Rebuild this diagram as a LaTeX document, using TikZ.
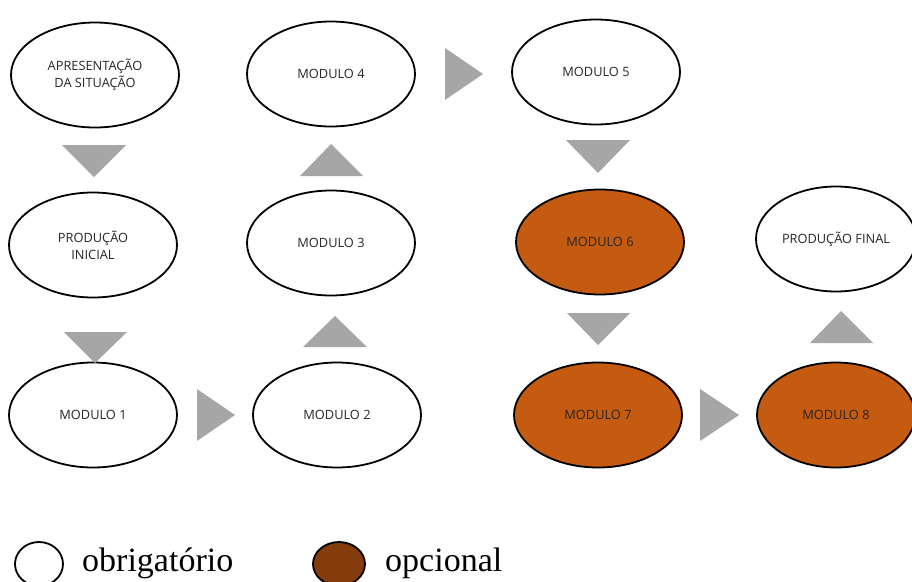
\documentclass[tikz,border=0pt]{standalone}
\usepackage{fontspec}
\setmainfont{Liberation Serif}
\newfontfamily\boxfont{Open Sans}
\usetikzlibrary{shapes.geometric}
\definecolor{optfill}{HTML}{C55A11}
\definecolor{legfill}{HTML}{843C0C}
\definecolor{arrgray}{HTML}{A6A6A6}
\begin{document}
\begin{tikzpicture}[x=1pt,y=-1pt,
  stage/.style={ellipse,draw=black,line width=1.8pt,inner sep=0pt,
    minimum width=168pt,minimum height=105pt,align=center,
    font=\boxfont\fontsize{12.8}{15}\selectfont,text=black!85},
  opt/.style={stage,fill=optfill},
  tri/.style={fill=arrgray,draw=none}]
\useasboundingbox (0,0) rectangle (912,581);
\node[stage] (apres) at (95,75) {APRESENTAÇÃO\\[2pt]DA SITUAÇÃO};
\node[stage] (m4) at (331,74) {MODULO 4};
\node[stage] (m5) at (596,72) {MODULO 5};
\node[stage] (pi) at (93,245) {PRODUÇÃO\\[2pt]INICIAL};
\node[stage] (m3) at (331,243) {MODULO 3};
\node[opt] (m6) at (600,242) {MODULO 6};
\node[stage,minimum width=160pt] (pf) at (836,239) {PRODUÇÃO FINAL};
\node[stage] (m1) at (93,415) {MODULO 1};
\node[stage] (m2) at (337,415) {MODULO 2};
\node[opt] (m7) at (598,415) {MODULO 7};
\node[opt,minimum width=158pt] (m8) at (836,415) {MODULO 8};
% arrows (gray triangles)
\fill[tri] (62,145) -- (126,145) -- (94,177) -- cycle;
\fill[tri] (64,332) -- (127,332) -- (95,363) -- cycle;
\fill[tri] (197,389) -- (235,415) -- (197,441) -- cycle;
\fill[tri] (303,347) -- (367,347) -- (335,316) -- cycle;
\fill[tri] (300,176) -- (363,176) -- (331,144) -- cycle;
\fill[tri] (445,48) -- (483,74) -- (445,100) -- cycle;
\fill[tri] (566,140) -- (630,140) -- (598,173) -- cycle;
\fill[tri] (567,313) -- (630,313) -- (598,345) -- cycle;
\fill[tri] (700,389) -- (739,415) -- (700,441) -- cycle;
\fill[tri] (810,343) -- (873,343) -- (841,311) -- cycle;
% legend
\node[ellipse,draw=black,line width=1.8pt,minimum width=48pt,minimum height=44pt,inner sep=0pt] (lo) at (39,564) {};
\node[anchor=base west,inner sep=0pt,font=\fontsize{34}{36}\selectfont] (lot) at (82,571) {obrigatório};
\node[ellipse,draw=black,fill=legfill,line width=1.8pt,minimum width=52pt,minimum height=44pt,inner sep=0pt] (lp) at (339,564) {};
\node[anchor=base west,inner sep=0pt,font=\fontsize{34}{36}\selectfont] (lpt) at (385,571) {opcional};
\end{tikzpicture}
\end{document}
